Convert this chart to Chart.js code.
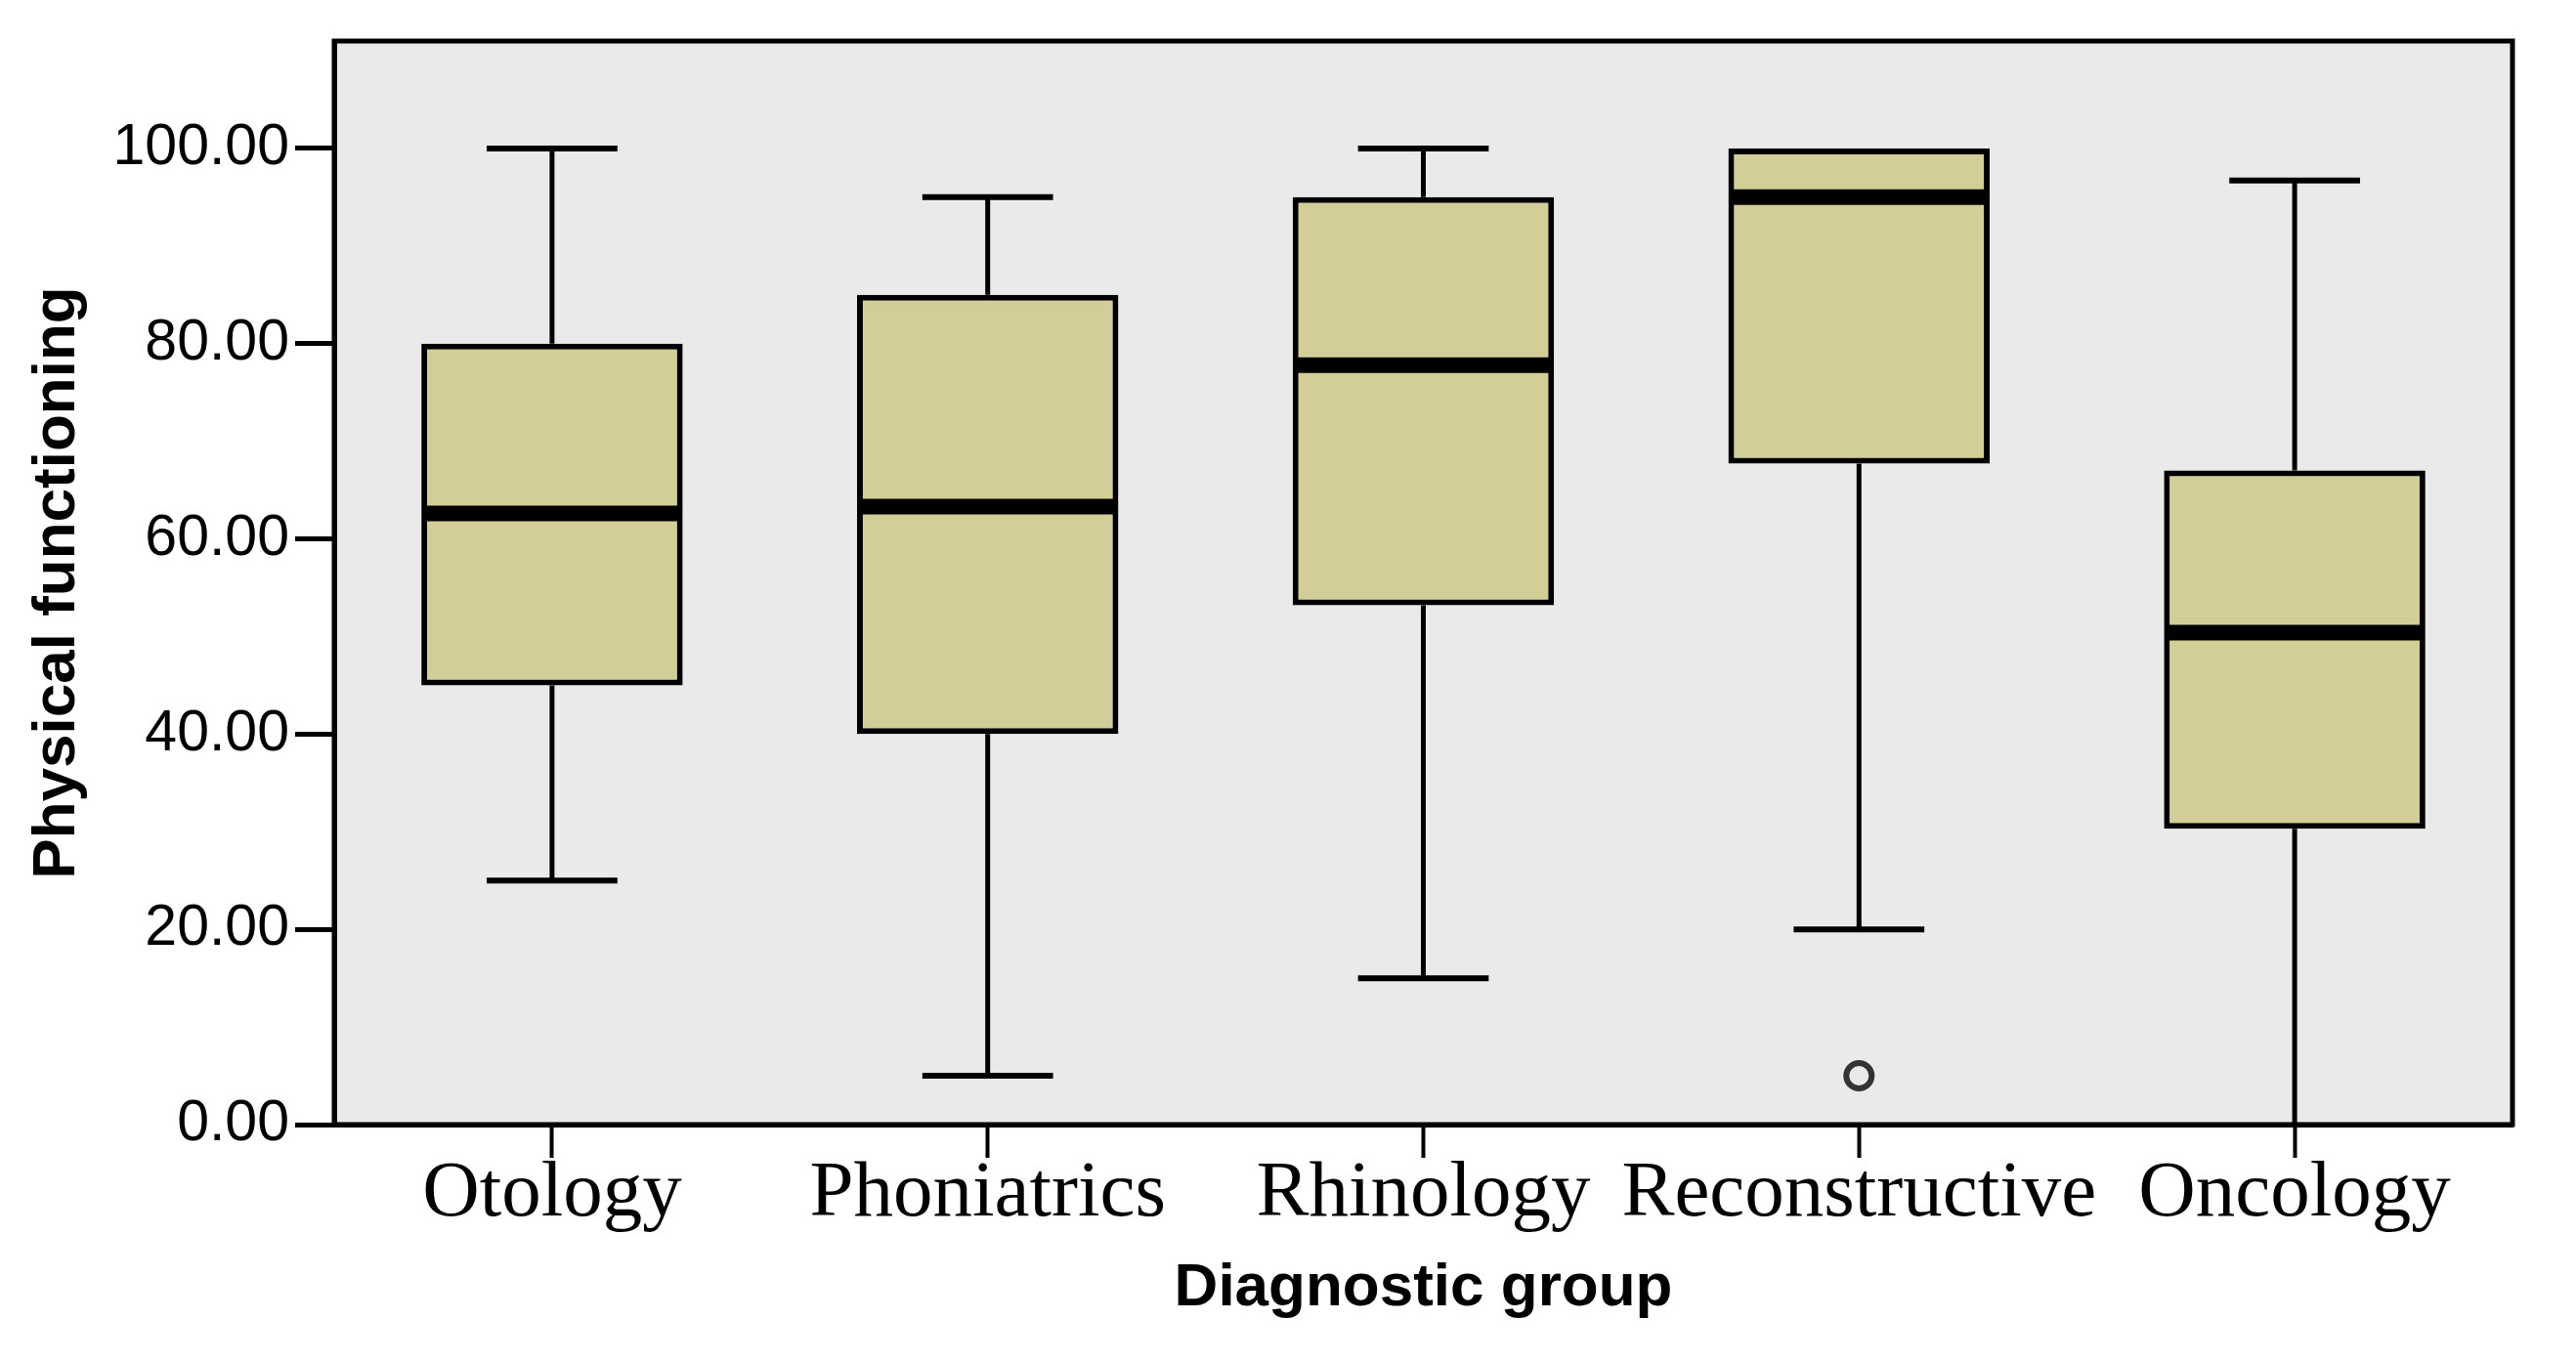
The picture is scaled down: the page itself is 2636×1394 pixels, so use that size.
<!DOCTYPE html>
<html>
<head>
<meta charset="utf-8">
<title>Physical functioning by diagnostic group</title>
<script src="https://cdn.jsdelivr.net/npm/chart.js@4.4.1/dist/chart.umd.min.js"></script>
<style>
    html, body { margin: 0; padding: 0; background: #fff; }
    canvas { display: block; }
</style>
</head>
<body>
<canvas id="mycanvas" width="2636" height="1394"></canvas>
<script>
var groups = ['Otology', 'Phoniatrics', 'Rhinology', 'Reconstructive', 'Oncology'];
var whiskerLow = [25, 5, 15, 20, 0];
var q1 = [45, 40, 53.2, 67.7, 30.3];
var median = [62.6, 63.3, 77.8, 95, 50.4];
var q3 = [80, 85, 95, 100, 67];
var whiskerHigh = [100, 95, 100, 100, 96.7];
var outliers = [null, null, null, 5, null];
var yTicks = [0, 20, 40, 60, 80, 100];

var ctx = document.getElementById('mycanvas').getContext('2d');

// grey plot background and the frame round it
var plotFrame = {
    id: 'plotFrame',
    beforeDraw: function (chart) {
        var a = chart.chartArea;
        chart.ctx.save();
        chart.ctx.fillStyle = '#eaeaea';
        chart.ctx.fillRect(a.left, a.top, a.right - a.left, a.bottom - a.top);
        chart.ctx.restore();
    },
    afterDraw: function (chart) {
        var a = chart.chartArea;
        chart.ctx.save();
        chart.ctx.strokeStyle = '#000';
        chart.ctx.lineWidth = 5;
        chart.ctx.strokeRect(a.left, a.top, a.right - a.left, a.bottom - a.top);
        chart.ctx.restore();
    }
};

// whiskers, caps and medians on top of the floating bars
var boxLines = {
    id: 'boxLines',
    afterDatasetsDraw: function (chart) {
        var c = chart.ctx;
        var y = chart.scales.y;
        var meta = chart.getDatasetMeta(0);
        c.save();
        c.strokeStyle = '#000';
        meta.data.forEach(function (bar, i) {
            var x = bar.x;
            var half = bar.width / 2;
            var cap = bar.width / 4;

            c.lineWidth = 5;
            c.beginPath();
            c.moveTo(x, y.getPixelForValue(q3[i]));
            c.lineTo(x, y.getPixelForValue(whiskerHigh[i]));
            c.moveTo(x, y.getPixelForValue(q1[i]));
            c.lineTo(x, y.getPixelForValue(whiskerLow[i]));
            c.stroke();

            c.lineWidth = 6;
            c.beginPath();
            if (whiskerHigh[i] > q3[i]) {
                c.moveTo(x - cap, y.getPixelForValue(whiskerHigh[i]));
                c.lineTo(x + cap, y.getPixelForValue(whiskerHigh[i]));
            }
            if (whiskerLow[i] > 0) {
                c.moveTo(x - cap, y.getPixelForValue(whiskerLow[i]));
                c.lineTo(x + cap, y.getPixelForValue(whiskerLow[i]));
            }
            c.stroke();

            c.lineWidth = 16;
            c.beginPath();
            c.moveTo(x - half + 3, y.getPixelForValue(median[i]));
            c.lineTo(x + half - 3, y.getPixelForValue(median[i]));
            c.stroke();
        });
        c.restore();
    }
};

var myChart = new Chart(ctx, {
    type: 'bar',
    data: {
        labels: groups,
        datasets: [{
                data: q1.map(function (v, i) { return [v, q3[i]]; }),
                backgroundColor: '#d3ce98',
                borderColor: '#000',
                borderWidth: 6,
                borderSkipped: false,
                barPercentage: 0.6,
                categoryPercentage: 1.0
            }, {
                type: 'line',
                data: outliers,
                showLine: false,
                pointStyle: 'circle',
                pointRadius: 13,
                pointBorderWidth: 6,
                pointBorderColor: '#333',
                pointBackgroundColor: 'rgba(0,0,0,0)'
            }]
    },
    options: {
        responsive: false,
        devicePixelRatio: 1,
        animation: false,
        layout: {
            padding: {top: 42, right: 65, bottom: 0, left: 0}
        },
        plugins: {
            legend: {display: false},
            tooltip: {enabled: false}
        },
        scales: {
            x: {
                afterFit: function (scale) { scale.height = 243; },
                grid: {display: true, drawOnChartArea: false, offset: false, drawTicks: true,
                    tickLength: 34, tickWidth: 4, tickColor: '#000'},
                border: {display: true, color: '#000', width: 5},
                ticks: {
                    padding: -3,
                    autoSkip: false,
                    maxRotation: 0,
                    minRotation: 0,
                    color: '#000',
                    font: {family: '"Liberation Serif", "Times New Roman", serif', size: 81, lineHeight: 1}
                },
                title: {
                    display: true,
                    text: 'Diagnostic group',
                    color: '#000',
                    font: {family: '"Liberation Sans", Arial, sans-serif', size: 62, weight: 'bold'},
                    padding: {top: 0, bottom: 38}
                }
            },
            y: {
                min: 0,
                max: 111,
                afterBuildTicks: function (scale) {
                    scale.ticks = yTicks.map(function (v) { return {value: v}; });
                },
                afterFit: function (scale) { scale.width = 342; },
                grid: {display: true, drawOnChartArea: false, drawTicks: true,
                    tickLength: 40, tickWidth: 5, tickColor: '#000'},
                border: {display: true, color: '#000', width: 5},
                ticks: {
                    padding: 6,
                    color: '#000',
                    font: {family: '"Liberation Sans", Arial, sans-serif', size: 59},
                    callback: function (v) { return v.toFixed(2); }
                },
                title: {
                    display: true,
                    text: 'Physical functioning',
                    color: '#000',
                    font: {family: '"Liberation Sans", Arial, sans-serif', size: 62, weight: 'bold'},
                    padding: {top: 22, bottom: 0}
                }
            }
        }
    },
    plugins: [plotFrame, boxLines]
});
</script>
</body>
</html>
